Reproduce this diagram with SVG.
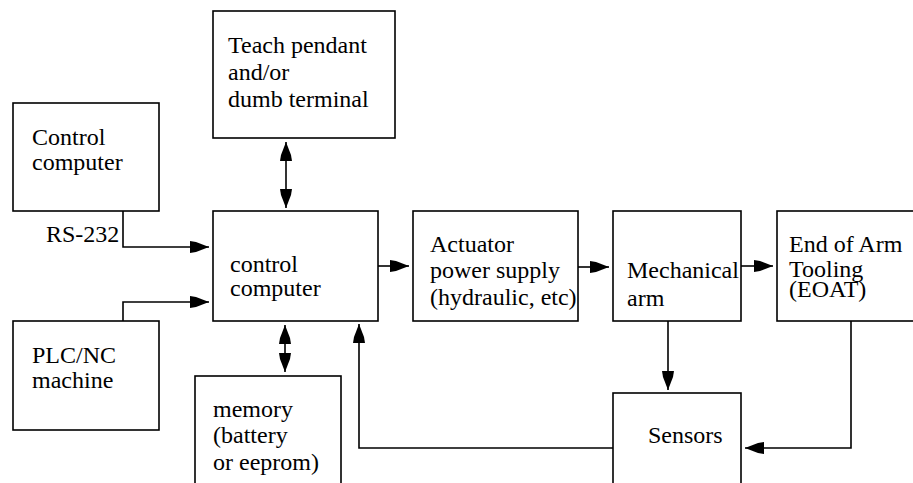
<svg xmlns="http://www.w3.org/2000/svg" width="913" height="483" viewBox="0 0 913 483">
<style>
.box{fill:#fff;stroke:#000;stroke-width:1.6}
.lbl{font-family:'Liberation Serif','DejaVu Serif','Times New Roman',serif;font-size:24px;fill:#000}
.con{fill:none;stroke:#000;stroke-width:1.6}
</style>
<defs>
<marker id="ah" viewBox="-20 -7 21 14" refX="0" refY="0" markerWidth="21" markerHeight="14" markerUnits="userSpaceOnUse" orient="auto-start-reverse">
<path d="M0,0 L-13,-5 L-19,-6 L-19,6 L-13,5 Z" fill="#000"/>
</marker>
</defs>
<rect width="913" height="483" fill="#fff"/>
<g id="connectors">
<path class="con" d="M123,211 V247 H209" marker-end="url(#ah)"/>
<path class="con" d="M123,321 V302 H209" marker-end="url(#ah)"/>
<path class="con" d="M286,142 V208" marker-start="url(#ah)" marker-end="url(#ah)"/>
<path class="con" d="M285,325 V372" marker-start="url(#ah)" marker-end="url(#ah)"/>
<path class="con" d="M378,266 H409" marker-end="url(#ah)"/>
<path class="con" d="M578,267 H609" marker-end="url(#ah)"/>
<path class="con" d="M741,266 H773" marker-end="url(#ah)"/>
<path class="con" d="M668,321 V390" marker-end="url(#ah)"/>
<path class="con" d="M851,321 V448 H745" marker-end="url(#ah)"/>
<path class="con" d="M613,448 H359 V324" marker-end="url(#ah)"/>
</g>
<g id="control-computer-ext">
<rect class="box" x="13" y="103" width="146" height="108"/>
<text class="lbl" font-family="Liberation Serif" x="32" y="145">Control</text>
<text class="lbl" font-family="Liberation Serif" x="32" y="170">computer</text>
</g>
<g id="rs232-label">
<text class="lbl" font-family="Liberation Serif" x="46" y="242">RS-232</text>
</g>
<g id="teach-pendant">
<rect class="box" x="213" y="11" width="182" height="127"/>
<text class="lbl" font-family="Liberation Serif" x="228" y="53">Teach pendant</text>
<text class="lbl" font-family="Liberation Serif" x="228" y="80">and/or</text>
<text class="lbl" font-family="Liberation Serif" x="228" y="107">dumb terminal</text>
</g>
<g id="control-computer">
<rect class="box" x="213" y="211" width="165" height="110"/>
<text class="lbl" font-family="Liberation Serif" x="230" y="272">control</text>
<text class="lbl" font-family="Liberation Serif" x="230" y="296">computer</text>
</g>
<g id="plc-nc">
<rect class="box" x="13" y="321" width="146" height="109"/>
<text class="lbl" font-family="Liberation Serif" x="32" y="363">PLC/NC</text>
<text class="lbl" font-family="Liberation Serif" x="32" y="388">machine</text>
</g>
<g id="memory">
<rect class="box" x="195" y="376" width="146" height="130"/>
<text class="lbl" font-family="Liberation Serif" x="213" y="417">memory</text>
<text class="lbl" font-family="Liberation Serif" x="213" y="443">(battery</text>
<text class="lbl" font-family="Liberation Serif" x="213" y="470">or eeprom)</text>
</g>
<g id="actuator">
<rect class="box" x="413" y="211" width="165" height="110"/>
<text class="lbl" font-family="Liberation Serif" x="430" y="252">Actuator</text>
<text class="lbl" font-family="Liberation Serif" x="430" y="278">power supply</text>
<text class="lbl" font-family="Liberation Serif" x="430" y="305">(hydraulic, etc)</text>
</g>
<g id="mechanical-arm">
<rect class="box" x="613" y="211" width="128" height="110"/>
<text class="lbl" font-family="Liberation Serif" x="627" y="278">Mechanical</text>
<text class="lbl" font-family="Liberation Serif" x="627" y="306">arm</text>
</g>
<g id="eoat">
<rect class="box" x="777" y="211" width="170" height="110"/>
<text class="lbl" font-family="Liberation Serif" x="789" y="252">End of Arm</text>
<text class="lbl" font-family="Liberation Serif" x="789" y="277">Tooling</text>
<text class="lbl" font-family="Liberation Serif" x="789" y="297">(EOAT)</text>
</g>
<g id="sensors">
<rect class="box" x="613" y="393" width="128" height="120"/>
<text class="lbl" font-family="Liberation Serif" x="648" y="443">Sensors</text>
</g>
</svg>
